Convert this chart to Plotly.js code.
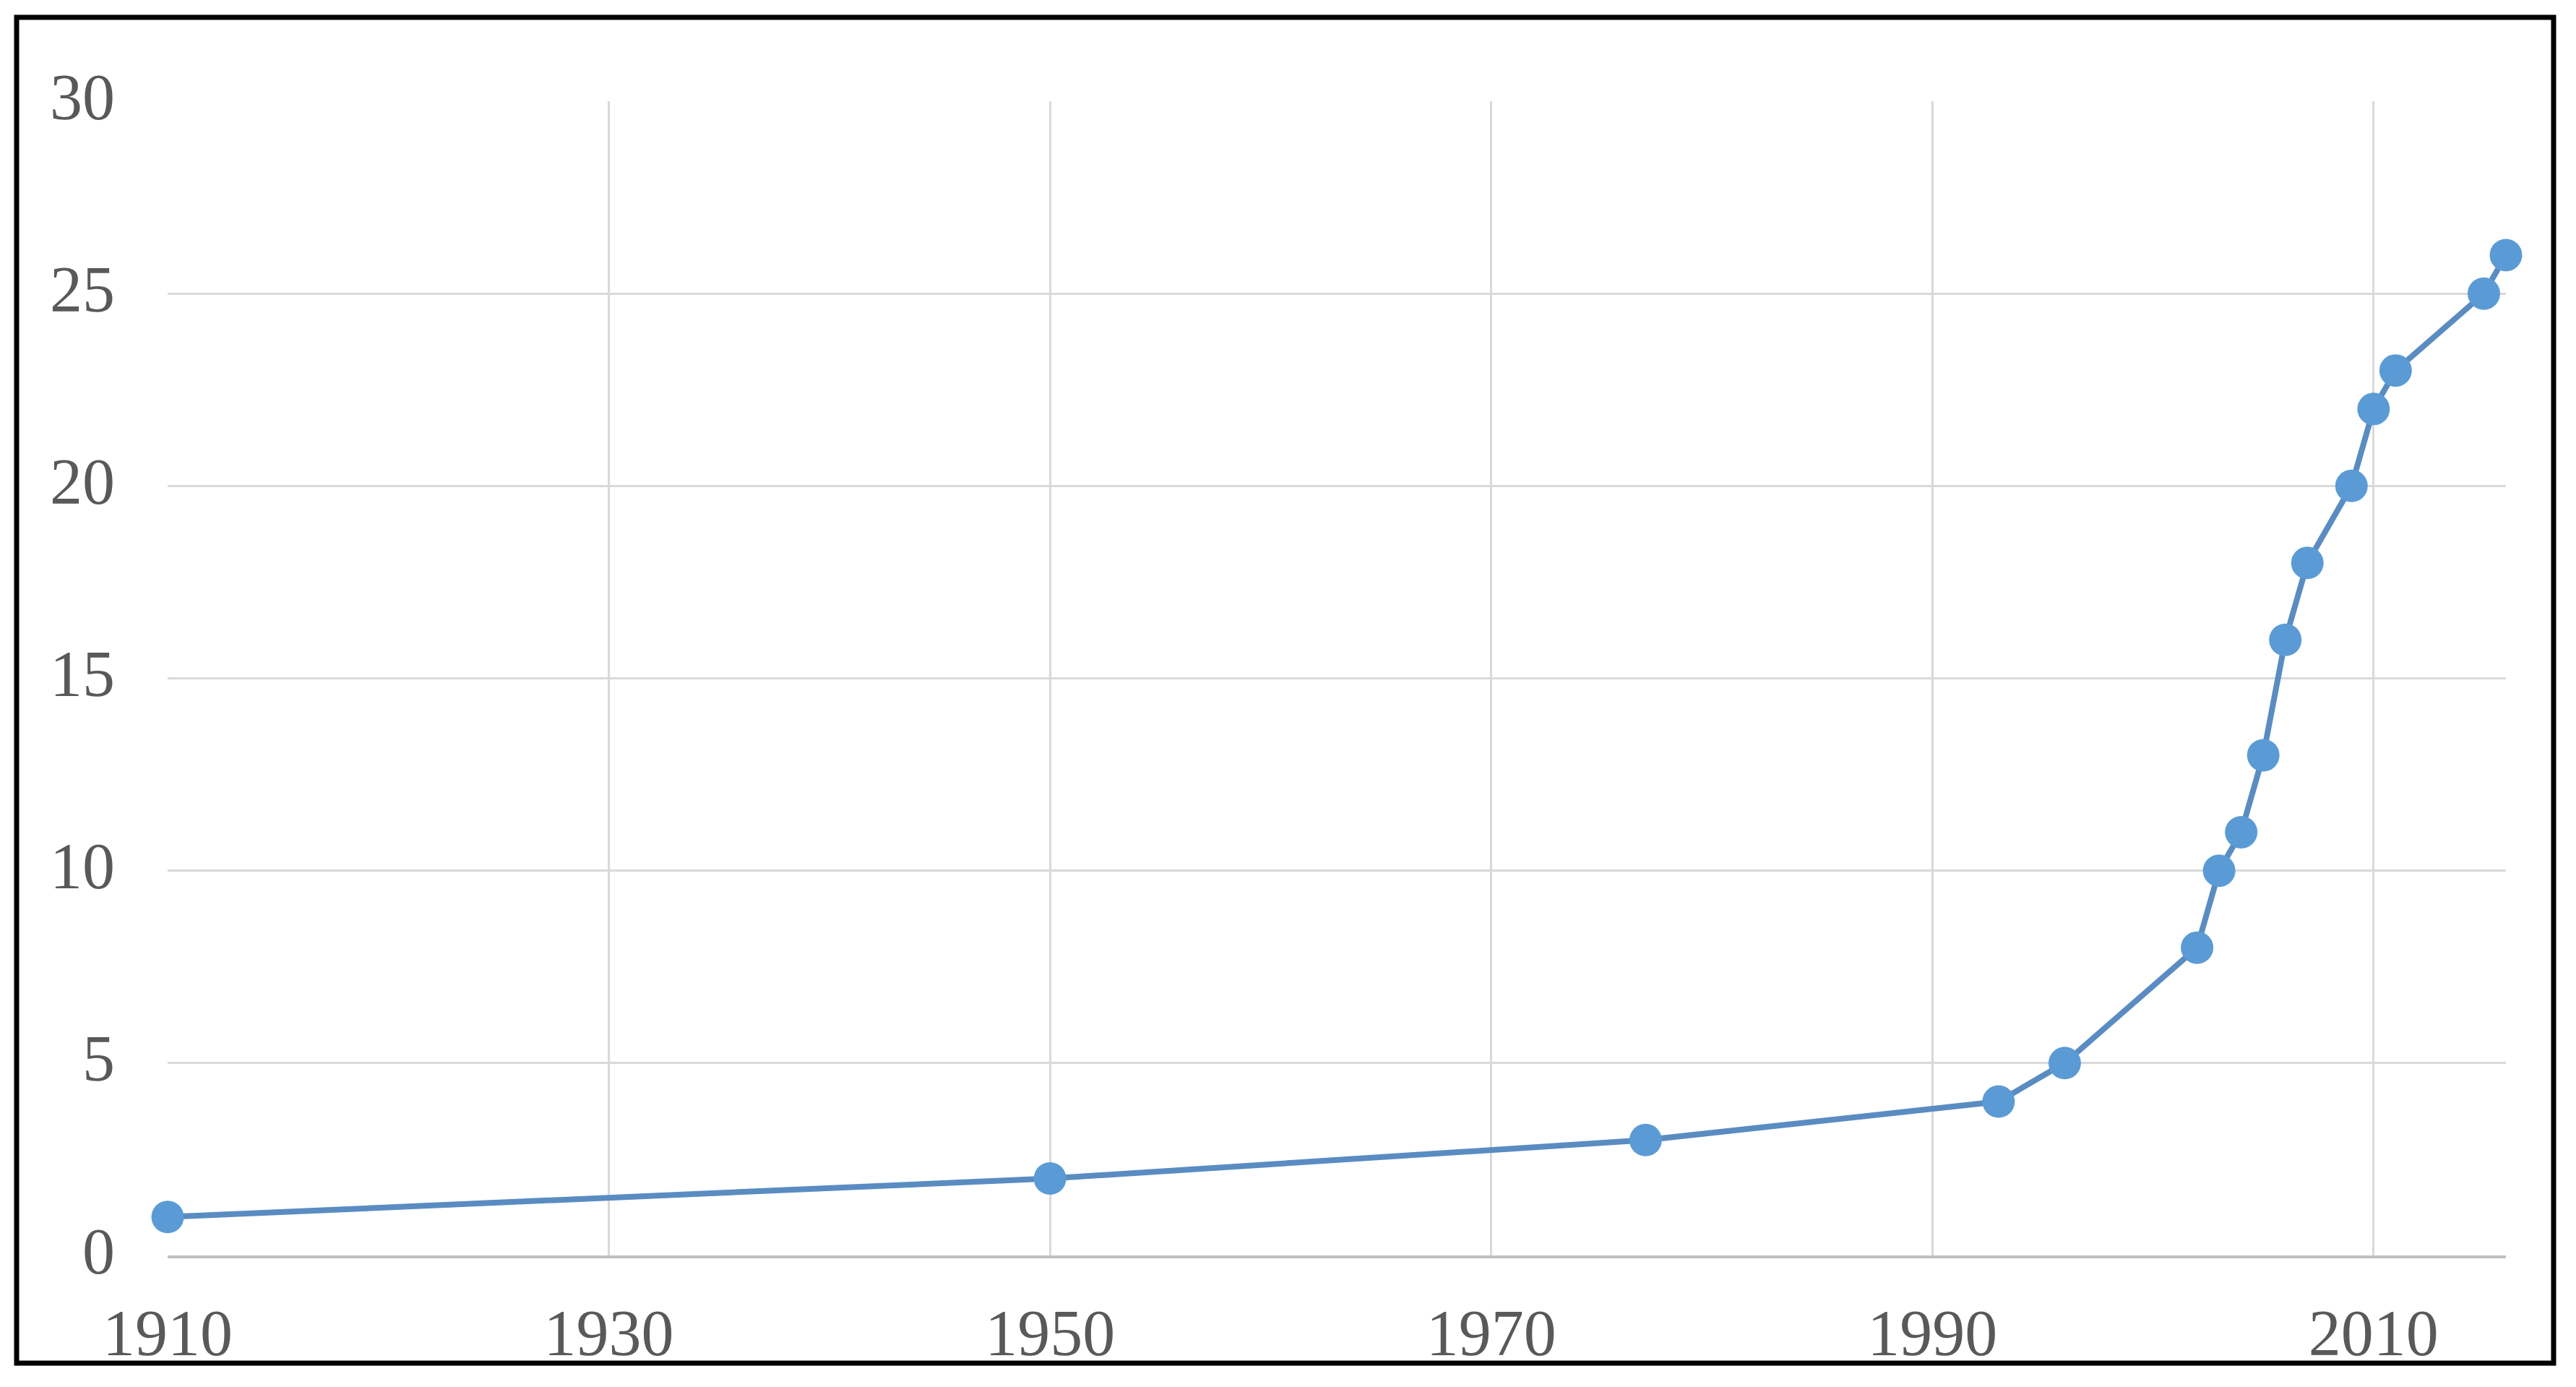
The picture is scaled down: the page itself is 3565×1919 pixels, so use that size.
<!DOCTYPE html>
<html>
<head>
<meta charset="utf-8">
<script src="https://cdn.plot.ly/plotly-3.0.1.min.js"></script>
<style>
html, body { margin: 0; padding: 0; background: #ffffff; }
#chart { width: 3565px; height: 1919px; }
</style>
</head>
<body>
<div id="chart"></div>
<script>
// Data
const years  = [1910, 1950, 1977, 1993, 1996, 2002, 2003, 2004, 2005, 2006, 2007, 2009, 2010, 2011, 2015, 2016];
const counts = [1, 2, 3, 4, 5, 8, 10, 11, 13, 16, 18, 20, 22, 23, 25, 26];

const xTickVals = [1910, 1930, 1950, 1970, 1990, 2010];
const yTickVals = [0, 5, 10, 15, 20, 25, 30];

const W = 3565, H = 1919;
const mL = 232, mR = 97, mT = 140, mB = 182;
const pw = W - mL - mR, ph = H - mT - mB;
// border frame in pixel coords converted to paper coords
function px(x) { return (x - mL) / pw; }
function py(y) { return (H - mB - y) / ph; }

const trace = {
  x: years,
  y: counts,
  type: 'scatter',
  mode: 'lines+markers',
  cliponaxis: false,
  line: { color: '#5A8CC2', width: 8 },
  marker: { color: '#5B9BD5', size: 45, line: { width: 0 } },
  hoverinfo: 'x+y'
};

const tickFont = { family: '"Liberation Serif", "DejaVu Serif", serif', size: 90, color: '#595959' };

const layout = {
  width: W,
  height: H,
  margin: { l: mL, r: mR, t: mT, b: mB, pad: 0 },
  paper_bgcolor: '#ffffff',
  plot_bgcolor: '#ffffff',
  showlegend: false,
  xaxis: {
    range: [1910, 2016],
    tickmode: 'array',
    tickvals: xTickVals,
    ticktext: xTickVals.map(String),
    showgrid: true,
    gridcolor: '#D9D9D9',
    gridwidth: 3,
    zeroline: false,
    showline: true,
    linecolor: '#BFBFBF',
    linewidth: 4,
    ticks: '',
    ticklabelstandoff: 26,
    tickfont: tickFont
  },
  yaxis: {
    range: [0, 30],
    tickmode: 'array',
    tickvals: yTickVals,
    ticktext: yTickVals.map(String),
    showgrid: true,
    gridcolor: '#D9D9D9',
    gridwidth: 3,
    zeroline: false,
    showline: false,
    ticks: '',
    ticklabelstandoff: 72,
    ticklabelshift: -7,
    tickfont: tickFont
  },
  shapes: [
    {
      type: 'rect', xref: 'paper', yref: 'paper',
      x0: px(23), x1: px(3534), y0: py(1886), y1: py(24),
      line: { color: '#000000', width: 7 },
      fillcolor: 'rgba(0,0,0,0)',
      layer: 'above'
    }
  ]
};

Plotly.newPlot('chart', [trace], layout, { displayModeBar: false, staticPlot: true });
</script>
</body>
</html>
